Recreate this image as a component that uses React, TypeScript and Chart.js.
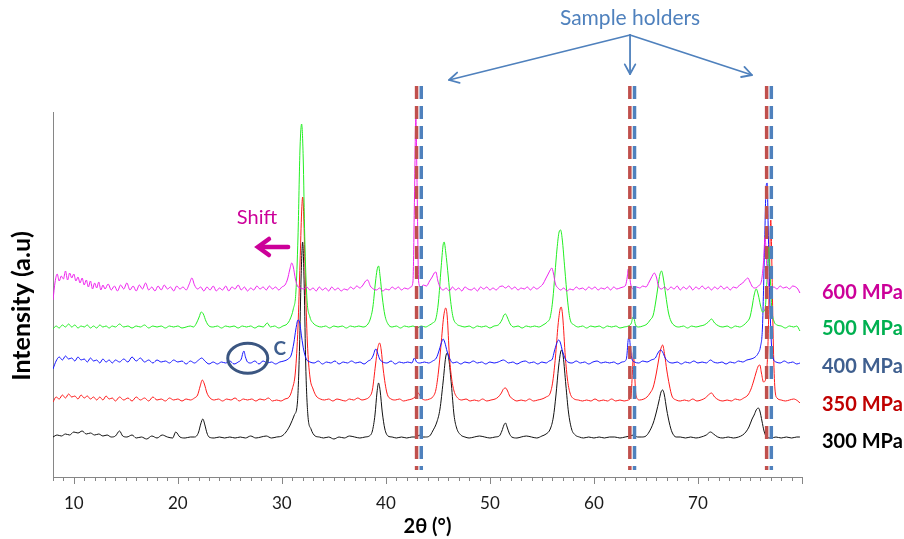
import React, { useEffect, useRef } from 'react';
import { Chart, registerables } from 'chart.js';

Chart.register(...registerables);

// ---------------- data ----------------
const seriesNames = ['600 MPa', '500 MPa', '400 MPa', '350 MPa', '300 MPa'];
const xTickLabels = [10, 20, 30, 40, 50, 60, 70];
const holderRed = [42.95, 63.45, 76.6];
const holderBlue = [43.4, 63.9, 77.05];
const holderSpan = [391, 7];

const trace300: number[][] = [
  [8.0, 40], [8.4, 42], [8.8, 41], [9.2, 43], [9.6, 42], [10.0, 45], [10.4, 44], [10.8, 46], [11.2, 43], [11.6, 44],
  [12.0, 42], [12.4, 43], [12.8, 41], [13.2, 42], [13.6, 40], [14.0, 41], [14.4, 46], [14.7, 41], [15.1, 40], [15.6, 42],
  [16.0, 39], [16.5, 40], [17.0, 38], [17.5, 41], [18.0, 39], [18.5, 42], [19.0, 40], [19.5, 39], [19.8, 45], [20.2, 40],
  [20.7, 39], [21.2, 40], [21.6, 40], [21.8, 41], [22.0, 45], [22.2, 53], [22.4, 58], [22.6, 52], [22.8, 44], [23.0, 40],
  [23.5, 39], [24.0, 40], [24.5, 39], [25.0, 40], [25.5, 39], [26.0, 40], [26.5, 39], [27.0, 41], [27.5, 39], [28.0, 40],
  [28.5, 41], [29.0, 39], [29.5, 40], [30.0, 41], [30.4, 45], [30.8, 52], [31.2, 62], [31.5, 75], [31.7, 130], [31.85, 200],
  [32.0, 235], [32.15, 190], [32.3, 110], [32.5, 62], [32.8, 48], [33.2, 41], [33.6, 40], [34.0, 39], [34.5, 40], [35.0, 38],
  [35.5, 40], [36.0, 39], [36.5, 41], [37.0, 40], [37.5, 39], [38.0, 40], [38.4, 41], [38.7, 46], [38.95, 62], [39.15, 85],
  [39.3, 94], [39.45, 86], [39.65, 65], [39.9, 48], [40.2, 41], [40.6, 40], [41.0, 39], [41.5, 40], [42.0, 39], [42.5, 40],
  [43.0, 40], [43.2, 42], [43.4, 40], [43.8, 40], [44.2, 41], [44.5, 46], [44.9, 55], [45.2, 68], [45.5, 95], [45.75, 120],
  [45.9, 124], [46.05, 118], [46.3, 92], [46.55, 62], [46.8, 49], [47.2, 42], [47.6, 40], [48.0, 39], [48.5, 40], [49.0, 41],
  [49.5, 40], [50.0, 39], [50.5, 40], [50.9, 41], [51.15, 46], [51.35, 52], [51.5, 54], [51.65, 50], [51.85, 44], [52.1, 40],
  [52.6, 39], [53.0, 40], [53.5, 41], [54.0, 40], [54.5, 39], [55.0, 41], [55.4, 43], [55.8, 48], [56.1, 60], [56.35, 82],
  [56.6, 110], [56.8, 125], [56.9, 127], [57.05, 120], [57.3, 92], [57.55, 65], [57.85, 48], [58.2, 42], [58.6, 40], [59.0, 39],
  [59.5, 40], [60.0, 39], [60.5, 40], [61.0, 39], [61.5, 40], [62.0, 40], [62.5, 39], [63.0, 40], [63.5, 41], [63.8, 42],
  [64.2, 40], [64.6, 40], [65.0, 41], [65.3, 45], [65.7, 54], [66.0, 65], [66.25, 76], [66.45, 85], [66.6, 87], [66.75, 83],
  [67.0, 67], [67.25, 54], [67.5, 45], [67.9, 40], [68.3, 40], [68.8, 39], [69.3, 40], [69.8, 39], [70.3, 40], [70.8, 42],
  [71.2, 45], [71.5, 43], [71.9, 40], [72.4, 39], [72.9, 40], [73.4, 39], [73.9, 40], [74.3, 42], [74.6, 45], [74.9, 50],
  [75.2, 58], [75.4, 62], [75.6, 67], [75.8, 69], [75.95, 66], [76.15, 56], [76.35, 46], [76.6, 40], [77.0, 39], [77.5, 40],
  [78.0, 39], [78.5, 40], [79.0, 39], [79.5, 40], [79.8, 40],
];

const trace350: number[][] = [
  [8.0, 75], [8.3, 80], [8.6, 78], [8.9, 82], [9.2, 79], [9.5, 83], [9.8, 80], [10.1, 81], [10.4, 78], [10.7, 82],
  [11.0, 79], [11.3, 81], [11.6, 78], [11.9, 80], [12.2, 77], [12.5, 80], [12.8, 77], [13.1, 81], [13.4, 78], [13.7, 79],
  [14.0, 76], [14.4, 80], [14.8, 77], [15.2, 79], [15.6, 76], [16.0, 80], [16.4, 77], [16.8, 79], [17.2, 76], [17.6, 80],
  [18.0, 77], [18.4, 78], [18.8, 76], [19.2, 79], [19.6, 77], [20.0, 78], [20.4, 76], [20.8, 78], [21.2, 77], [21.6, 79],
  [21.9, 82], [22.15, 91], [22.35, 97], [22.55, 93], [22.8, 84], [23.1, 79], [23.5, 77], [23.9, 78], [24.3, 76], [24.7, 78],
  [25.1, 77], [25.5, 79], [25.9, 76], [26.3, 78], [26.7, 77], [27.1, 78], [27.5, 76], [27.9, 78], [28.3, 77], [28.7, 79],
  [29.1, 76], [29.5, 77], [29.9, 76], [30.3, 78], [30.7, 80], [31.0, 88], [31.3, 105], [31.55, 150], [31.75, 215], [31.9, 265],
  [32.0, 280], [32.1, 262], [32.25, 200], [32.45, 135], [32.7, 100], [33.0, 88], [33.3, 81], [33.7, 78], [34.1, 77], [34.5, 78],
  [34.9, 76], [35.3, 78], [35.7, 77], [36.1, 76], [36.5, 78], [36.9, 77], [37.3, 79], [37.7, 77], [38.1, 78], [38.4, 80],
  [38.7, 87], [39.0, 112], [39.2, 128], [39.4, 134], [39.55, 127], [39.75, 107], [40.1, 84], [40.5, 78], [40.9, 77], [41.3, 78],
  [41.7, 76], [42.1, 77], [42.5, 78], [42.8, 80], [43.1, 84], [43.4, 79], [43.8, 77], [44.2, 78], [44.5, 80], [44.8, 87],
  [45.05, 105], [45.3, 132], [45.55, 160], [45.75, 169], [45.9, 160], [46.1, 122], [46.3, 100], [46.55, 86], [46.9, 79], [47.3, 77],
  [47.7, 78], [48.1, 76], [48.5, 77], [48.9, 76], [49.3, 78], [49.7, 76], [50.1, 77], [50.5, 78], [50.8, 80], [51.1, 84],
  [51.3, 88], [51.5, 89], [51.7, 86], [51.9, 81], [52.2, 78], [52.6, 76], [53.0, 77], [53.4, 76], [53.8, 78], [54.2, 76],
  [54.6, 77], [55.0, 78], [55.4, 80], [55.8, 84], [56.05, 96], [56.3, 120], [56.55, 152], [56.75, 168], [56.85, 170], [57.0, 160],
  [57.25, 120], [57.45, 98], [57.7, 84], [58.1, 78], [58.5, 77], [58.9, 76], [59.3, 77], [59.7, 76], [60.1, 78], [60.5, 76],
  [60.9, 77], [61.3, 76], [61.7, 78], [62.1, 76], [62.5, 77], [62.9, 76], [63.3, 77], [63.55, 80], [63.7, 105], [63.8, 125],
  [63.9, 105], [64.05, 81], [64.4, 77], [64.8, 78], [65.1, 80], [65.4, 84], [65.7, 90], [66.0, 104], [66.2, 116], [66.4, 127],
  [66.6, 132], [66.8, 122], [67.0, 107], [67.25, 92], [67.5, 81], [67.9, 77], [68.3, 76], [68.7, 77], [69.1, 76], [69.5, 78],
  [69.9, 76], [70.3, 77], [70.7, 79], [71.0, 82], [71.3, 84], [71.6, 80], [72.0, 77], [72.4, 76], [72.8, 77], [73.2, 76],
  [73.6, 78], [74.0, 77], [74.4, 79], [74.8, 82], [75.1, 88], [75.35, 96], [75.6, 105], [75.8, 111], [75.95, 112], [76.1, 104],
  [76.3, 95], [76.55, 100], [76.75, 140], [76.9, 220], [77.0, 257], [77.1, 215], [77.25, 130], [77.4, 88], [77.6, 79], [78.0, 77],
  [78.4, 76], [78.8, 77], [79.2, 78], [79.6, 76], [79.8, 74],
];

const trace400: number[][] = [
  [8.0, 108], [8.3, 116], [8.6, 120], [8.9, 117], [9.2, 121], [9.5, 118], [9.8, 119], [10.1, 116], [10.4, 120], [10.7, 117],
  [11.0, 118], [11.3, 115], [11.6, 119], [11.9, 116], [12.2, 117], [12.5, 114], [12.8, 118], [13.1, 115], [13.4, 117], [13.7, 114],
  [14.0, 117], [14.4, 115], [14.8, 118], [15.2, 115], [15.6, 120], [16.0, 116], [16.4, 119], [16.8, 115], [17.2, 117], [17.6, 114],
  [18.0, 117], [18.4, 115], [18.8, 116], [19.2, 114], [19.6, 117], [20.0, 115], [20.4, 116], [20.8, 113], [21.2, 116], [21.6, 114],
  [22.0, 117], [22.3, 119], [22.6, 116], [23.0, 113], [23.4, 115], [23.8, 113], [24.2, 115], [24.6, 114], [25.0, 116], [25.4, 113],
  [25.8, 115], [26.1, 118], [26.25, 124], [26.35, 126], [26.5, 120], [26.7, 115], [27.0, 114], [27.4, 116], [27.8, 113], [28.2, 116],
  [28.6, 114], [29.0, 115], [29.4, 113], [29.8, 115], [30.2, 116], [30.6, 118], [30.9, 122], [31.15, 134], [31.35, 148], [31.55, 157],
  [31.7, 155], [31.9, 140], [32.1, 127], [32.35, 118], [32.7, 115], [33.1, 114], [33.5, 116], [33.9, 113], [34.3, 115], [34.7, 114],
  [35.1, 116], [35.5, 113], [35.9, 115], [36.3, 114], [36.7, 116], [37.1, 114], [37.5, 115], [37.9, 113], [38.3, 116], [38.6, 118],
  [38.8, 122], [38.95, 127], [39.05, 128], [39.2, 124], [39.4, 118], [39.7, 115], [40.1, 114], [40.5, 116], [40.9, 113], [41.3, 115],
  [41.7, 114], [42.1, 115], [42.5, 114], [42.75, 119], [42.95, 115], [43.3, 114], [43.7, 115], [44.1, 114], [44.5, 116], [44.85, 119],
  [45.1, 126], [45.3, 133], [45.5, 138], [45.65, 135], [45.9, 125], [46.15, 118], [46.45, 114], [46.8, 115], [47.2, 113], [47.6, 115],
  [48.0, 114], [48.4, 116], [48.8, 114], [49.2, 115], [49.6, 113], [50.0, 115], [50.4, 114], [50.8, 115], [51.3, 117], [51.5, 116],
  [51.8, 114], [52.2, 115], [52.6, 113], [53.0, 115], [53.4, 116], [53.8, 114], [54.2, 115], [54.6, 113], [55.0, 115], [55.4, 114],
  [55.7, 116], [56.0, 118], [56.2, 126], [56.4, 133], [56.6, 137], [56.75, 135], [57.0, 125], [57.25, 118], [57.5, 115], [57.9, 114],
  [58.3, 116], [58.7, 114], [59.1, 115], [59.5, 113], [59.9, 115], [60.3, 116], [60.7, 114], [61.1, 115], [61.5, 114], [61.9, 115],
  [62.3, 113], [62.7, 115], [63.0, 116], [63.15, 120], [63.3, 138], [63.4, 140], [63.5, 130], [63.65, 118], [63.9, 115], [64.3, 114],
  [64.7, 116], [65.1, 115], [65.5, 117], [65.9, 119], [66.15, 124], [66.4, 127], [66.6, 125], [66.85, 119], [67.2, 115], [67.6, 114],
  [68.0, 115], [68.4, 113], [68.8, 115], [69.2, 114], [69.6, 116], [70.0, 114], [70.4, 115], [70.8, 114], [71.2, 117], [71.5, 115],
  [71.9, 114], [72.3, 115], [72.7, 113], [73.1, 115], [73.5, 114], [73.9, 116], [74.3, 115], [74.7, 117], [75.1, 118], [75.5, 120],
  [75.8, 124], [76.0, 130], [76.2, 150], [76.4, 230], [76.55, 290], [76.65, 294], [76.75, 250], [76.9, 180], [77.05, 135], [77.25, 118],
  [77.5, 115], [77.9, 114], [78.3, 116], [78.7, 114], [79.1, 115], [79.5, 113], [79.8, 114],
];

const trace500: number[][] = [
  [8.0, 148], [8.3, 151], [8.6, 149], [8.9, 152], [9.2, 150], [9.5, 153], [9.8, 150], [10.1, 152], [10.4, 149], [10.7, 151],
  [11.0, 150], [11.3, 152], [11.6, 149], [11.9, 151], [12.2, 149], [12.5, 152], [12.8, 150], [13.1, 151], [13.4, 149], [13.7, 151],
  [14.0, 150], [14.4, 153], [14.8, 150], [15.2, 151], [15.6, 149], [16.0, 151], [16.4, 150], [16.8, 152], [17.2, 149], [17.6, 151],
  [18.0, 150], [18.4, 151], [18.8, 149], [19.2, 151], [19.6, 150], [20.0, 151], [20.4, 149], [20.8, 150], [21.2, 151], [21.5, 150],
  [21.8, 154], [22.05, 160], [22.25, 165], [22.45, 163], [22.7, 156], [23.0, 151], [23.4, 150], [23.8, 151], [24.2, 149], [24.6, 151],
  [25.0, 150], [25.4, 151], [25.8, 149], [26.2, 151], [26.6, 150], [27.0, 151], [27.4, 149], [27.8, 151], [28.2, 150], [28.6, 154],
  [28.9, 150], [29.3, 151], [29.7, 149], [30.1, 151], [30.5, 153], [30.8, 158], [31.1, 168], [31.35, 185], [31.55, 240], [31.75, 330],
  [31.9, 353], [32.05, 320], [32.2, 240], [32.4, 180], [32.7, 160], [33.0, 154], [33.4, 151], [33.8, 150], [34.2, 151], [34.6, 149],
  [35.0, 151], [35.4, 150], [35.8, 151], [36.2, 149], [36.6, 151], [37.0, 150], [37.4, 151], [37.8, 150], [38.2, 152], [38.5, 158],
  [38.75, 170], [39.0, 195], [39.15, 207], [39.3, 211], [39.45, 200], [39.65, 180], [39.9, 162], [40.2, 153], [40.6, 150], [41.0, 151],
  [41.4, 149], [41.8, 151], [42.2, 150], [42.6, 151], [43.0, 149], [43.4, 151], [43.8, 150], [44.2, 152], [44.5, 154], [44.8, 158],
  [45.05, 175], [45.3, 208], [45.5, 232], [45.6, 235], [45.75, 225], [46.0, 200], [46.2, 178], [46.45, 160], [46.8, 153], [47.2, 151],
  [47.6, 150], [48.0, 151], [48.4, 149], [48.8, 151], [49.2, 150], [49.6, 151], [50.0, 149], [50.4, 151], [50.8, 152], [51.15, 157],
  [51.35, 162], [51.5, 163], [51.7, 159], [51.95, 153], [52.3, 150], [52.7, 151], [53.1, 149], [53.5, 151], [53.9, 150], [54.3, 151],
  [54.7, 150], [55.1, 152], [55.5, 155], [55.8, 160], [56.05, 178], [56.25, 203], [56.45, 228], [56.65, 245], [56.8, 247], [56.95, 238],
  [57.2, 208], [57.45, 178], [57.7, 158], [58.1, 152], [58.5, 150], [58.9, 151], [59.3, 149], [59.7, 151], [60.1, 150], [60.5, 151],
  [60.9, 149], [61.3, 151], [61.7, 150], [62.1, 151], [62.5, 149], [62.9, 150], [63.3, 151], [63.6, 154], [63.75, 160], [63.85, 159],
  [64.0, 152], [64.3, 150], [64.7, 151], [65.1, 153], [65.4, 157], [65.7, 162], [65.95, 176], [66.15, 190], [66.35, 203], [66.5, 206],
  [66.65, 200], [66.9, 182], [67.15, 165], [67.4, 156], [67.8, 151], [68.2, 150], [68.6, 151], [69.0, 149], [69.4, 151], [69.8, 150],
  [70.2, 151], [70.6, 152], [71.0, 155], [71.3, 158], [71.6, 154], [72.0, 151], [72.4, 150], [72.8, 151], [73.2, 149], [73.6, 151],
  [74.0, 150], [74.4, 152], [74.7, 155], [75.0, 160], [75.2, 170], [75.4, 182], [75.6, 188], [75.8, 182], [76.0, 172], [76.2, 165],
  [76.45, 168], [76.65, 200], [76.8, 230], [76.95, 200], [77.1, 168], [77.3, 156], [77.6, 152], [78.0, 151], [78.4, 149], [78.8, 151],
  [79.2, 150], [79.5, 151], [79.8, 146],
];

const trace600: number[][] = [
  [8.0, 177], [8.2, 195], [8.4, 203], [8.6, 196], [8.8, 201], [9.0, 198], [9.2, 206], [9.4, 197], [9.6, 204], [9.8, 199],
  [10.0, 203], [10.2, 196], [10.4, 200], [10.6, 194], [10.8, 199], [11.0, 192], [11.2, 197], [11.4, 190], [11.6, 196], [11.8, 188],
  [12.0, 194], [12.2, 189], [12.4, 195], [12.6, 187], [12.8, 192], [13.0, 188], [13.3, 193], [13.6, 187], [13.9, 191], [14.2, 186],
  [14.5, 192], [14.8, 188], [15.1, 194], [15.4, 187], [15.7, 191], [16.0, 186], [16.3, 192], [16.6, 188], [16.9, 194], [17.2, 187],
  [17.5, 190], [17.8, 186], [18.1, 191], [18.4, 187], [18.7, 192], [19.0, 188], [19.3, 190], [19.6, 186], [19.9, 191], [20.2, 188],
  [20.5, 190], [20.8, 187], [21.1, 193], [21.35, 199], [21.6, 192], [21.9, 188], [22.2, 190], [22.5, 186], [22.8, 190], [23.1, 187],
  [23.4, 191], [23.7, 186], [24.0, 189], [24.3, 187], [24.6, 191], [24.9, 186], [25.2, 190], [25.5, 188], [25.8, 192], [26.1, 187],
  [26.4, 190], [26.7, 186], [27.0, 189], [27.3, 187], [27.6, 191], [27.9, 188], [28.2, 190], [28.5, 187], [28.8, 191], [29.1, 188],
  [29.4, 190], [29.7, 187], [30.0, 190], [30.3, 192], [30.55, 198], [30.75, 207], [30.95, 214], [31.1, 210], [31.3, 198], [31.5, 191],
  [31.8, 189], [32.1, 188], [32.4, 190], [32.7, 187], [33.0, 189], [33.3, 186], [33.6, 190], [33.9, 187], [34.2, 189], [34.5, 186],
  [34.8, 190], [35.1, 187], [35.4, 189], [35.7, 186], [36.0, 188], [36.3, 187], [36.6, 190], [36.9, 188], [37.2, 191], [37.5, 189],
  [37.8, 192], [38.05, 196], [38.25, 197], [38.5, 191], [38.8, 188], [39.1, 187], [39.4, 189], [39.7, 186], [40.0, 188], [40.3, 187],
  [40.6, 190], [40.9, 188], [41.2, 190], [41.5, 187], [41.8, 189], [42.1, 188], [42.4, 190], [42.6, 195], [42.75, 280], [42.88, 360],
  [43.0, 290], [43.15, 195], [43.35, 190], [43.6, 192], [43.9, 191], [44.2, 196], [44.45, 200], [44.65, 204], [44.8, 205], [45.0, 196],
  [45.2, 190], [45.5, 187], [45.8, 189], [46.1, 186], [46.4, 190], [46.7, 187], [47.0, 189], [47.3, 186], [47.6, 190], [47.9, 188],
  [48.2, 187], [48.5, 189], [48.8, 186], [49.1, 190], [49.4, 188], [49.7, 190], [50.0, 187], [50.3, 189], [50.6, 187], [50.9, 190],
  [51.2, 191], [51.5, 189], [51.8, 191], [52.1, 188], [52.4, 190], [52.7, 187], [53.0, 189], [53.3, 188], [53.6, 190], [53.9, 187],
  [54.2, 190], [54.5, 188], [54.8, 190], [55.1, 193], [55.35, 198], [55.6, 203], [55.8, 207], [55.95, 209], [56.1, 204], [56.3, 193],
  [56.55, 189], [56.8, 187], [57.1, 189], [57.4, 186], [57.7, 188], [58.0, 187], [58.3, 190], [58.6, 188], [58.9, 189], [59.2, 187],
  [59.5, 190], [59.8, 188], [60.1, 190], [60.4, 187], [60.7, 189], [61.0, 188], [61.3, 190], [61.6, 187], [61.9, 190], [62.2, 188],
  [62.5, 189], [62.8, 190], [63.05, 192], [63.2, 200], [63.3, 208], [63.4, 203], [63.55, 192], [63.8, 188], [64.1, 190], [64.4, 189],
  [64.7, 191], [65.0, 190], [65.3, 195], [65.5, 199], [65.65, 202], [65.8, 204], [66.0, 200], [66.2, 191], [66.5, 188], [66.8, 190],
  [67.1, 187], [67.4, 190], [67.7, 188], [68.0, 191], [68.3, 187], [68.6, 190], [68.9, 188], [69.2, 191], [69.5, 187], [69.8, 190],
  [70.1, 188], [70.4, 191], [70.7, 188], [71.0, 190], [71.3, 187], [71.6, 190], [71.9, 188], [72.2, 191], [72.5, 188], [72.8, 190],
  [73.1, 187], [73.4, 190], [73.7, 189], [74.0, 192], [74.3, 194], [74.55, 197], [74.8, 199], [75.0, 195], [75.25, 190], [75.5, 189],
  [75.8, 191], [76.1, 196], [76.3, 215], [76.45, 240], [76.6, 215], [76.75, 193], [77.0, 189], [77.3, 190], [77.6, 188], [77.9, 191],
  [78.2, 189], [78.5, 190], [78.8, 188], [79.1, 191], [79.4, 190], [79.6, 188], [79.8, 184],
];

// ---------------- styles ----------------
const FONT = 'Lato';
const traceColors = ['#EE22EE', '#22EE22', '#1515FF', '#FF1A1A', '#111111'];
const labelColors = ['#CC0099', '#00B050', '#3F5F8F', '#C00000', '#000000'];
const labelY = [293, 329, 367, 405, 442];
const HOLDER_RED = '#C0504D';
const HOLDER_BLUE = '#4F81BD';

function arrowHead(ctx: CanvasRenderingContext2D, x0: number, y0: number, x1: number, y1: number, len: number, ang: number) {
  const a = Math.atan2(y1 - y0, x1 - x0);
  ctx.beginPath();
  ctx.moveTo(x1 - len * Math.cos(a - ang), y1 - len * Math.sin(a - ang));
  ctx.lineTo(x1, y1);
  ctx.lineTo(x1 - len * Math.cos(a + ang), y1 - len * Math.sin(a + ang));
  ctx.stroke();
}

const overlayPlugin = {
  id: 'overlay',
  afterDraw(chart: any) {
    const ctx: CanvasRenderingContext2D = chart.ctx;
    const xs = chart.scales.x;
    const ys = chart.scales.y;
    const ca = chart.chartArea;
    ctx.save();

    // x tick marks (major / minor)
    ctx.strokeStyle = '#868686';
    ctx.lineWidth = 1;
    xs.ticks.forEach((t: any) => {
      const px = Math.round(xs.getPixelForValue(t.value)) + 0.5;
      const major = Math.abs(t.value - Math.round(t.value / 10) * 10) < 1e-6;
      const len = major ? 7 : 4;
      ctx.beginPath();
      ctx.moveTo(px, ca.bottom);
      ctx.lineTo(px, ca.bottom + len);
      ctx.stroke();
    });

    // y axis title
    ctx.save();
    ctx.translate(22, 306);
    ctx.rotate(-Math.PI / 2);
    ctx.fillStyle = '#000';
    ctx.font = `bold 25px ${FONT}`;
    ctx.textAlign = 'center';
    ctx.textBaseline = 'middle';
    ctx.fillText('Intensity (a.u)', 0, 0);
    ctx.restore();

    // Sample holders annotation
    ctx.fillStyle = HOLDER_BLUE;
    ctx.font = `21px ${FONT}`;
    ctx.textAlign = 'center';
    ctx.textBaseline = 'middle';
    const ox = xs.getPixelForValue(63.47);
    ctx.fillText('Sample holders', ox, 18);
    ctx.strokeStyle = HOLDER_BLUE;
    ctx.lineWidth = 1.8;
    ctx.lineCap = 'round';
    ctx.lineJoin = 'round';
    const tips = [[xs.getPixelForValue(46.07), 80], [ox, 74], [xs.getPixelForValue(75.19), 75]];
    tips.forEach(([tx, ty]) => {
      ctx.beginPath();
      ctx.moveTo(ox, 35);
      ctx.lineTo(tx, ty);
      ctx.stroke();
      arrowHead(ctx, ox, 35, tx, ty, 11, 0.5);
    });

    // Shift annotation
    ctx.fillStyle = '#CC0099';
    ctx.font = `20px ${FONT}`;
    ctx.fillText('Shift', xs.getPixelForValue(27.61), 218);
    ctx.strokeStyle = '#CC0099';
    ctx.lineWidth = 4.5;
    ctx.lineCap = 'round';
    ctx.lineJoin = 'miter';
    const sx1 = xs.getPixelForValue(30.6);
    const sx0 = xs.getPixelForValue(27.7);
    ctx.beginPath();
    ctx.moveTo(sx1, 247);
    ctx.lineTo(sx0 + 2, 247);
    ctx.stroke();
    ctx.beginPath();
    ctx.moveTo(sx0 + 11, 239);
    ctx.lineTo(sx0, 247);
    ctx.lineTo(sx0 + 11, 255);
    ctx.stroke();

    // "C" ellipse annotation
    const cx = xs.getPixelForValue(26.72);
    const cy = ys.getPixelForValue(118.7);
    ctx.strokeStyle = '#3B5681';
    ctx.lineWidth = 3;
    ctx.beginPath();
    ctx.ellipse(cx, cy, 20, 15, 0, 0, Math.PI * 2);
    ctx.stroke();
    ctx.fillStyle = '#3F5F8F';
    ctx.font = `bold 19px ${FONT}`;
    ctx.fillText('C', xs.getPixelForValue(29.8), 349);

    // series labels
    ctx.textAlign = 'left';
    ctx.font = `bold 20px ${FONT}`;
    seriesNames.forEach((name, i) => {
      ctx.fillStyle = labelColors[i];
      ctx.fillText(name, ca.right + 20, labelY[i]);
    });

    ctx.restore();
  },
};

export default function App() {
  const canvasRef = useRef<HTMLCanvasElement | null>(null);

  useEffect(() => {
    const canvas = canvasRef.current;
    if (!canvas) return;
    Chart.defaults.font.family = FONT;

    const traces = [trace600, trace500, trace400, trace350, trace300];
    const traceSets = traces.map((tr, i) => ({
      label: seriesNames[i],
      data: tr.map(([x, y]) => ({ x, y })),
      borderColor: traceColors[i],
      borderWidth: 1,
      pointRadius: 0,
      fill: false,
      cubicInterpolationMode: 'monotone' as const,
      order: 2 + i,
    }));

    const holderSets: any[] = [];
    const addHolder = (x: number, color: string) => {
      holderSets.push({
        label: 'holder',
        data: holderSpan.map((y) => ({ x, y })),
        borderColor: color,
        borderWidth: 3.5,
        borderDash: [13, 7],
        borderCapStyle: 'butt',
        pointRadius: 0,
        clip: false,
        order: 0,
      });
    };
    holderRed.forEach((x) => addHolder(x, HOLDER_RED));
    holderBlue.forEach((x) => addHolder(x, HOLDER_BLUE));

    const chart = new Chart(canvas, {
      type: 'line',
      data: { datasets: [...traceSets, ...holderSets] },
      options: {
        responsive: false,
        animation: false,
        layout: { padding: { left: 0, right: 102, top: 112, bottom: 0 } },
        plugins: {
          legend: { display: false },
          tooltip: { enabled: false },
        },
        scales: {
          x: {
            type: 'linear',
            min: 8,
            max: 80,
            afterFit: (scale: any) => {
              scale.height = 62;
            },
            ticks: {
              stepSize: 1,
              autoSkip: false,
              maxRotation: 0,
              padding: 9,
              color: '#1a1a1a',
              font: { family: FONT, size: 17 },
              callback: (v: any) => {
                const n = Math.round(Number(v));
                return Math.abs(Number(v) - n) < 1e-6 && xTickLabels.includes(n) ? String(n) : '';
              },
            },
            grid: { display: true, drawOnChartArea: false, drawTicks: true, tickLength: 7, color: 'rgba(0,0,0,0)' },
            border: { display: true, color: '#868686', width: 1 },
            title: {
              display: true,
              text: '2θ (°)',
              color: '#000',
              font: { family: FONT, size: 20, weight: 'bold' },
              padding: { top: 0, bottom: 0 },
            },
          },
          y: {
            type: 'linear',
            min: 0,
            max: 365,
            afterFit: (scale: any) => {
              scale.width = 53;
            },
            ticks: { display: false },
            grid: { display: false, drawTicks: false },
            border: { display: true, color: '#868686', width: 1 },
            title: { display: false },
          },
        },
      },
      plugins: [overlayPlugin],
    });

    return () => chart.destroy();
  }, []);

  return (
    <div style={{ position: 'absolute', left: 0, top: 0, width: 904, height: 539, background: '#fff' }}>
      <canvas ref={canvasRef} width={904} height={539} style={{ display: 'block' }} />
    </div>
  );
}
